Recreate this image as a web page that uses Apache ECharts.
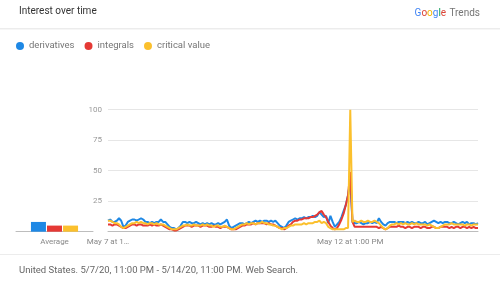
<!DOCTYPE html>
<html><head><meta charset="utf-8">
<script src="https://cdn.jsdelivr.net/npm/echarts@6/dist/echarts.min.js"></script>
<style>html,body{margin:0;padding:0;background:#fff}#c{width:500px;height:283px}</style>
</head><body><div id="c"></div>
<script>
const seriesNames = ['derivatives', 'integrals', 'critical value'];
const colors = ['#1E88E5', '#E53935', '#FBC02D'];

const derivatives = [
  9, 10, 8, 8, 9, 11, 9, 4, 5, 8,
  9, 10, 10, 9, 10, 11, 10, 8, 8, 7,
  8, 7, 8, 8, 10, 8, 8, 6, 4, 3,
  3, 2, 3, 5, 8, 8, 7, 8, 7, 7,
  8, 7, 6, 7, 6, 7, 6, 7, 6, 6,
  7, 6, 7, 8, 10, 5, 3, 4, 5, 6,
  7, 7, 6, 7, 8, 7, 8, 9, 8, 9,
  8, 9, 9, 8, 9, 8, 9, 7, 5, 4,
  3, 5, 8, 9, 10, 11, 10, 11, 11, 12,
  11, 12, 12, 13, 12, 13, 16, 14, 12, 13,
  7, 13, 8, 4, 6, 8, 12, 17, 22, 30,
  42, 8, 7, 7, 8, 7, 6, 7, 7, 8,
  7, 8, 7, 11, 8, 6, 5, 7, 8, 8,
  8, 7, 8, 8, 8, 7, 8, 7, 8, 7,
  7, 8, 7, 7, 8, 6, 7, 8, 9, 8,
  7, 8, 7, 8, 8, 7, 7, 8, 7, 6,
  7, 8, 7, 8, 6, 7, 7, 6, 7
];
const integrals = [
  6, 6, 5, 6, 6, 5, 4, 3, 3, 4,
  5, 6, 6, 5, 6, 6, 5, 5, 5, 6,
  5, 6, 5, 5, 6, 5, 4, 3, 2, 2,
  1, 1, 2, 3, 4, 5, 5, 5, 4, 5,
  5, 5, 4, 5, 5, 5, 4, 4, 5, 4,
  4, 3, 4, 4, 4, 3, 2, 2, 2, 3,
  4, 5, 5, 6, 6, 6, 7, 6, 7, 7,
  7, 7, 6, 7, 6, 6, 5, 4, 3, 3,
  2, 3, 5, 6, 8, 9, 9, 10, 10, 11,
  11, 11, 12, 12, 13, 14, 16, 17, 14, 12,
  8, 5, 3, 2, 3, 6, 10, 15, 22, 30,
  49, 8, 4, 4, 4, 4, 4, 4, 4, 4,
  4, 4, 4, 3, 4, 3, 2, 3, 4, 4,
  4, 4, 5, 4, 4, 3, 4, 4, 3, 4,
  4, 4, 3, 4, 4, 3, 3, 4, 4, 3,
  3, 4, 4, 4, 4, 3, 4, 3, 4, 4,
  3, 4, 4, 3, 4, 3, 4, 3, 3
];
const criticalValue = [
  9, 9, 8, 7, 7, 6, 4, 3, 4, 5,
  6, 7, 7, 8, 7, 8, 7, 7, 6, 7,
  7, 6, 7, 6, 6, 6, 5, 4, 3, 2,
  2, 2, 3, 4, 5, 5, 6, 5, 5, 6,
  5, 5, 5, 6, 5, 6, 5, 5, 4, 5,
  5, 4, 4, 5, 4, 3, 2, 2, 3, 4,
  5, 6, 6, 7, 6, 7, 7, 6, 7, 7,
  8, 7, 7, 6, 6, 5, 5, 4, 3, 2,
  3, 3, 4, 5, 5, 6, 6, 6, 6, 7,
  6, 7, 7, 7, 8, 8, 9, 7, 8, 7,
  4, 3, 2, 2, 2, 2, 2, 2, 3, 3,
  100, 8, 9, 8, 8, 9, 8, 8, 9, 8,
  8, 9, 8, 7, 5, 3, 2, 3, 5, 6,
  6, 7, 6, 7, 6, 7, 6, 6, 7, 6,
  7, 6, 6, 6, 6, 5, 6, 5, 4, 3,
  3, 4, 5, 6, 6, 6, 7, 6, 6, 6,
  6, 6, 5, 6, 6, 5, 6, 6, 6
];
const averages = [8, 5, 5];
const averageLabel = ['Average'];
const yTicks = [0, 25, 50, 75, 100];
const xTickLabels = { 0: 'May 7 at 1…', 110: 'May 12 at 1:00 PM' };

// hourly categories, 5/7/20 11:00 PM .. 5/14/20 11:00 PM
const monthNames = ['Jan','Feb','Mar','Apr','May','Jun','Jul','Aug','Sep','Oct','Nov','Dec'];
const categories = [];
for (let h = 0; h < derivatives.length; h++) {
  const d = new Date(Date.UTC(2020, 4, 7, 23 + h));
  let hr = d.getUTCHours(); const ap = hr >= 12 ? 'PM' : 'AM'; hr = hr % 12 || 12;
  categories.push(monthNames[d.getUTCMonth()] + ' ' + d.getUTCDate() + ' at ' + hr + ':00 ' + ap);
}
const lineData = [derivatives, integrals, criticalValue];

const FONT = 'Roboto';
const chart = echarts.init(document.getElementById('c'), null, { renderer: 'canvas' });
const gridTop = 109.7, gridBottom = 283 - 231.7;

const seriesList = [];
seriesNames.forEach((n, k) => {
  seriesList.push({
    name: n, type: 'bar', xAxisIndex: 0, yAxisIndex: 0,
    data: [averages[k]], barWidth: 15, barGap: '7%',
    itemStyle: { color: colors[k] }, silent: true
  });
});
seriesNames.forEach((n, k) => {
  seriesList.push({
    name: n, type: 'line', xAxisIndex: 1, yAxisIndex: 1,
    data: lineData[k], symbol: 'none', smooth: false,
    lineStyle: { width: 2, color: colors[k] }, itemStyle: { color: colors[k] },
    z: 2 + k
  });
});

chart.setOption({
  animation: false,
  textStyle: { fontFamily: FONT },
  color: colors,
  legend: {
    data: seriesNames, left: 16, top: 41, padding: 0, icon: 'circle', itemWidth: 8, itemHeight: 8, itemGap: 10,
    textStyle: { color: '#757575', fontSize: 9.5, fontFamily: FONT }
  },
  grid: [
    { left: 16, width: 77, top: gridTop, bottom: gridBottom },
    { left: 108, right: 22, top: gridTop, bottom: gridBottom }
  ],
  xAxis: [
    { type: 'category', gridIndex: 0, data: averageLabel,
      axisLine: { lineStyle: { color: '#bdbdbd' } }, axisTick: { show: false },
      axisLabel: { color: '#888', fontSize: 8, margin: 6, fontFamily: FONT } },
    { type: 'category', gridIndex: 1, data: categories, boundaryGap: false,
      axisLine: { lineStyle: { color: '#bdbdbd' } }, axisTick: { show: false },
      axisLabel: { color: '#888', fontSize: 8, margin: 6, fontFamily: FONT,
        interval: (i) => xTickLabels[i] !== undefined,
        formatter: (v, i) => xTickLabels[i] || '' } }
  ],
  yAxis: [
    { type: 'value', gridIndex: 0, min: 0, max: 100, interval: 25,
      axisLabel: { show: false }, splitLine: { show: false }, axisLine: { show: false } },
    { type: 'value', gridIndex: 1, min: yTicks[0], max: yTicks[yTicks.length - 1], interval: 25,
      axisLine: { show: false }, axisTick: { show: false },
      axisLabel: { color: '#999', fontSize: 8, margin: 6, fontFamily: FONT,
        formatter: (v) => (v === 0 ? '' : String(v)) },
      splitLine: { lineStyle: { color: '#e6e6e6', width: 1 } } }
  ],
  graphic: [
    { type: 'text', left: 19, top: 6,
      style: { text: 'Interest over time', fill: '#333', font: '10px Roboto' } },
    { type: 'text', right: 20, top: 7,
      style: {
        text: '{b|G}{r|o}{y|o}{b|g}{g|l}{r|e} {t|Trends}',
        rich: {
          b: { fill: '#4285F4', font: '10px Roboto' },
          r: { fill: '#DB4437', font: '10px Roboto' },
          y: { fill: '#F4B400', font: '10px Roboto' },
          g: { fill: '#0F9D58', font: '10px Roboto' },
          t: { fill: '#757575', font: '10px Roboto' }
        }
      } },
    { type: 'rect', shape: { x: 0, y: 28, width: 500, height: 1 }, style: { fill: '#ececec' } },
    { type: 'rect', shape: { x: 0, y: 29, width: 500, height: 1 }, style: { fill: '#f6f6f6' } },
    { type: 'rect', shape: { x: 0, y: 254, width: 500, height: 1 }, style: { fill: '#ececec' } },
    { type: 'text', left: 19, top: 266,
      style: { text: 'United States. 5/7/20, 11:00 PM - 5/14/20, 11:00 PM. Web Search.', fill: '#666', font: '9.5px Roboto' } }
  ],
  series: seriesList
});
</script></body></html>
